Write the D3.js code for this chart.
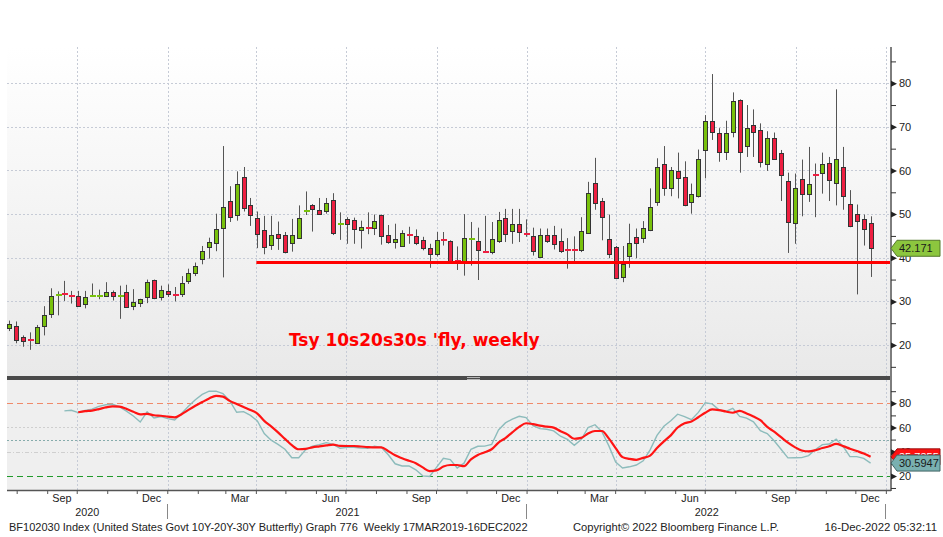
<!DOCTYPE html>
<html><head><meta charset="utf-8">
<script src="https://cdn.jsdelivr.net/npm/d3@7"></script>
<style>body{margin:0;background:#fff;} svg{display:block;font-family:"Liberation Sans",Arial,sans-serif;}</style>
</head><body><svg id="c" width="943" height="537"></svg>
<script>
// ---------- data ----------
const startDate = "2020-07-24", endDate = "2022-12-16";
const open = [23.9,24.3,21.9,21.1,20.5,24.3,27.1,31.3,31.7,31.3,
31.3,29.5,31.1,31.2,31.3,32.2,31.1,32.2,28.8,29.5,
31.0,34.8,31.2,32.3,31.6,31.5,34.5,36.5,39.8,42.4,
43.5,46.8,53.0,49.8,58.6,52.0,49.1,46.4,42.9,45.4,
45.2,43.3,44.5,50.7,52.0,51.0,50.7,53.3,47.6,48.8,
48.6,46.3,46.9,46.8,49.8,45.3,43.8,42.8,45.4,45.0,
44.0,42.3,40.9,44.1,43.8,39.2,39.0,44.2,43.8,41.4,
41.5,43.8,49.0,46.2,47.8,45.4,44.9,40.3,45.1,45.3,
43.8,41.9,41.9,41.7,45.7,57.2,53.0,44.2,42.5,35.6,
40.4,44.7,44.4,46.4,52.8,61.4,55.9,59.8,58.4,52.6,
54.2,64.7,71.3,68.5,64.4,68.7,76.1,65.6,70.4,69.3,
61.5,67.5,64.1,57.5,48.0,58.0,54.5,59.0,59.5,61.8,
57.2,60.8,52.4,50.1,48.8,48.0];
const high = [25.6,25.4,22.2,22.9,24.6,28.9,33.0,32.3,34.7,32.4,
32.4,32.4,34.1,32.7,34.4,32.5,33.6,33.8,32.8,30.6,
35.0,35.0,33.6,33.9,33.3,35.8,37.5,38.9,42.7,44.6,
50.1,65.6,56.4,59.8,60.8,53.7,50.6,49.6,49.6,48.3,
45.9,48.9,52.0,55.2,52.3,53.7,53.7,54.8,50.4,49.3,
49.2,48.5,50.4,49.9,49.9,47.5,47.8,46.3,47.1,46.5,
44.8,43.2,45.9,45.9,44.0,42.6,50.0,48.2,46.9,49.6,
48.2,50.5,51.2,51.2,51.2,48.8,46.9,46.7,46.7,47.3,
46.7,44.5,44.9,49.3,57.4,62.9,53.7,49.9,42.7,42.7,
47.8,46.7,48.4,55.9,62.8,65.6,60.8,64.1,62.1,57.0,
64.8,72.7,82.1,69.7,71.4,77.9,76.3,75.0,74.0,70.8,
69.0,68.7,64.7,59.5,59.3,62.5,65.4,61.6,64.1,63.1,
78.6,65.4,55.5,52.2,49.9,49.5];
const low = [23.2,20.4,19.6,18.9,20.5,22.2,26.2,26.8,30.1,29.5,
28.9,28.4,31.0,30.5,31.0,30.2,26.0,28.8,28.0,28.7,
29.6,30.5,30.2,31.0,30.0,31.0,34.0,35.8,38.5,39.8,
41.5,35.5,48.2,48.5,50.6,47.3,42.2,40.8,41.8,41.8,
41.0,41.4,44.3,49.8,46.0,49.8,50.1,45.2,44.1,43.2,
43.2,42.1,45.4,45.2,43.0,43.2,42.1,42.5,43.2,42.9,
41.7,37.7,40.3,42.8,39.0,37.2,35.9,38.2,34.9,41.2,
40.8,43.4,43.6,43.2,43.6,44.8,40.5,40.0,43.4,41.9,
41.1,37.5,39.0,41.3,45.5,51.0,44.0,39.9,35.2,34.4,
37.7,39.9,43.4,46.1,51.9,54.2,54.1,53.6,51.8,50.1,
53.8,58.2,67.0,62.0,62.4,67.6,59.5,63.1,63.1,60.7,
59.9,62.4,53.0,41.1,43.2,49.5,52.8,49.3,54.7,53.0,
52.0,51.0,47.0,31.6,42.8,35.6];
const close = [24.85,21.2,20.9,21.0,24.1,26.9,31.2,31.8,31.5,31.1,
29.0,31.1,31.2,31.3,32.2,31.2,31.2,28.8,29.8,30.5,
34.5,30.6,32.7,31.7,31.5,34.1,36.4,38.2,41.6,43.5,
46.7,51.6,49.3,56.9,51.6,49.8,45.5,42.5,45.2,44.5,
41.2,45.2,49.1,50.8,51.0,50.1,52.6,45.8,47.7,47.6,
46.5,47.0,46.8,48.4,45.0,43.8,44.4,45.7,45.2,43.4,
42.2,40.9,44.0,43.9,39.2,39.1,44.6,44.3,41.7,41.3,
44.4,48.6,45.3,47.8,45.9,45.3,41.5,45.3,43.8,43.2,
41.5,41.8,41.8,46.1,54.9,52.6,49.3,40.7,35.3,38.6,
43.4,43.4,46.8,51.6,60.8,55.9,60.1,58.2,52.0,54.5,
62.6,71.4,68.7,64.1,68.7,75.9,64.1,69.7,68.7,62.0,
67.5,62.8,59.1,48.0,56.0,54.5,56.8,58.9,61.6,57.9,
62.6,54.1,47.4,48.4,46.4,42.171];
const rsi = [null,null,null,null,null,null,null,null,
73.7,74.2,72.3,74.0,75.2,77.5,78.8,79.2,77.0,73.5,
69.5,64.5,73.0,67.8,69.0,67.3,66.2,71.5,77.5,83.0,
87.3,90.0,90.0,88.0,82.0,72.6,73.1,70.0,65.5,55.0,
49.5,46.0,42.0,35.0,35.0,41.5,44.5,45.8,47.5,46.0,
42.8,43.6,43.6,43.0,42.8,44.5,43.5,37.5,30.0,28.2,
28.2,25.0,20.0,19.5,27.0,34.5,33.5,26.5,30.5,42.0,
44.5,44.6,46.0,58.0,63.8,67.0,69.3,68.2,61.5,59.1,
58.5,57.2,52.8,50.2,45.3,50.0,60.0,62.3,56.5,45.0,
31.5,26.5,27.5,29.0,32.5,41.5,53.5,61.0,65.5,71.0,
69.0,66.4,72.5,80.5,79.5,74.6,73.3,75.9,69.2,67.7,
64.7,57.3,55.0,49.0,42.0,34.9,35.0,35.1,36.8,41.8,
45.8,46.3,50.3,44.5,36.0,35.9,34.5,30.5947];
const rsiAvg = [null,null,null,null,null,null,null,null,null,null,
72.6,73.5,74.0,75.2,76.6,77.5,77.2,75.4,73.0,70.9,
71.2,70.1,69.7,69.0,68.4,71.0,74.6,78.0,81.0,84.0,
86.2,85.5,82.0,79.5,77.0,74.5,71.5,65.5,61.0,56.0,
50.6,45.4,42.0,42.3,43.6,44.4,45.2,45.9,44.8,44.7,
44.7,44.3,43.8,43.5,43.6,40.5,37.0,34.6,32.5,30.5,
27.0,24.0,24.5,27.7,29.0,29.0,28.0,33.6,37.3,39.5,
42.0,47.5,51.3,56.0,60.5,63.5,62.8,61.5,60.7,59.9,
56.9,54.3,50.7,51.4,55.0,57.1,57.1,51.0,43.0,35.5,
34.0,33.3,34.9,36.8,43.0,48.5,53.5,60.0,63.5,65.0,
68.5,72.2,75.0,74.4,73.2,72.2,73.7,71.6,69.1,66.0,
60.5,56.5,52.0,47.5,43.8,41.0,40.2,41.2,43.0,44.5,
46.4,44.6,42.5,40.5,38.5,35.7355];
const supportLevel = 38.94;
const supportStart = "2021-04-01";
const priceTicks = [20,30,40,50,60,70,80];
const priceMinorTicks = [15,25,35,45,55,65,75,85];
const rsiTicks = [20,40,60,80];
const rsiMinorTicks = [10,30,50,70,90];
const rsiLevels = [80,60,50,40,20];
const lastPrice = "42.171", lastRsi = "30.5947", lastRsiAvg = "35.7355";
const titleText = "Tsy 10s20s30s 'fly, weekly";
const footerLeft = "BF102030 Index (United States Govt 10Y-20Y-30Y Butterfly) Graph 776  Weekly 17MAR2019-16DEC2022";
const footerMid = "Copyright\u00A9 2022 Bloomberg Finance L.P.";
const footerRight = "16-Dec-2022 05:32:11";

// ---------- layout ----------
const svg = d3.select("#c");
const L = 7, AX = 891, TOP = 47, TOPB = 376, LOWT = 380, LOWB = 490;
const parse = d3.utcParse("%Y-%m-%d");
const d0 = parse(startDate), d1 = parse(endDate);
const dates = d3.utcFriday.range(d0, d3.utcDay.offset(d1, 1));
const candles = dates.map((d, i) => ({date: d, o: open[i], h: high[i], l: low[i], c: close[i], r: rsi[i], ra: rsiAvg[i]}));

const x = d3.scaleUtc().domain([d0, d1]).range([9.3, 870.6]);
const yT = d3.scaleLinear().domain([12.9, 88.3]).range([TOPB, TOP]);
const yL = d3.scaleLinear().domain([8, 100]).range([490.4, 379.1]);
const px = v => Math.round(v) + 0.5;

const defs = svg.append("defs");
const grad = defs.append("linearGradient").attr("id", "bg").attr("x1", 0).attr("y1", 0).attr("x2", 0).attr("y2", 1);
grad.append("stop").attr("offset", "0%").attr("stop-color", "#ffffff");
grad.append("stop").attr("offset", "100%").attr("stop-color", "#e9e9e9");

svg.append("rect").attr("x", L).attr("y", TOP).attr("width", AX - L).attr("height", TOPB - TOP).attr("fill", "url(#bg)");
svg.append("rect").attr("x", L).attr("y", LOWT).attr("width", AX - L).attr("height", LOWB - LOWT).attr("fill", "#efefef");

// vertical quarter gridlines
const quarters = d3.utcMonth.every(3).range(d3.utcDay.offset(d0, 1), new Date(Date.UTC(2023, 0, 2)));
const gGrid = svg.append("g");
quarters.forEach(q => {
  const xx = px(x(q));
  if (xx > AX - 2) return;
  [[TOP, TOPB], [LOWT, LOWB]].forEach(([a, b]) =>
    gGrid.append("line").attr("x1", xx).attr("x2", xx).attr("y1", a).attr("y2", b)
      .attr("stroke", "#c6cbd6").attr("stroke-dasharray", "2,2"));
});
// horizontal price gridlines
priceTicks.forEach(v => gGrid.append("line").attr("x1", L).attr("x2", AX).attr("y1", px(yT(v))).attr("y2", px(yT(v)))
  .attr("stroke", "#c6cbd6").attr("stroke-dasharray", "2,2"));

// RSI level lines
const levelStyle = {80: ["#f08a6a", "6,4"], 60: ["#cfcfcf", "2,2"], 50: ["#86acac", "2,2"], 40: ["#cfcfcf", "4,2,1,2"], 20: ["#1f9a2a", "6,4"]};
rsiLevels.forEach(v => gGrid.append("line").attr("x1", L).attr("x2", AX).attr("y1", px(yL(v))).attr("y2", px(yL(v)))
  .attr("stroke", levelStyle[v][0]).attr("stroke-dasharray", levelStyle[v][1]));

// candles
const gC = svg.append("g");
candles.forEach(d => {
  const cx = Math.round(x(d.date));
  const up = d.c >= d.o;
  gC.append("line").attr("x1", cx + 0.5).attr("x2", cx + 0.5).attr("y1", yT(d.h)).attr("y2", yT(d.l))
    .attr("stroke", "#555").attr("stroke-width", 1);
  const yt = yT(Math.max(d.o, d.c)), yb = yT(Math.min(d.o, d.c));
  const col = up ? "#78c10c" : "#ee1f41";
  if (yb - yt < 2.2) {
    gC.append("rect").attr("x", cx - 2).attr("y", Math.round((yt + yb) / 2) - 1).attr("width", 6).attr("height", 2).attr("fill", col);
  } else {
    gC.append("rect").attr("x", cx - 1.5).attr("y", Math.round(yt) + 0.5).attr("width", 4).attr("height", Math.max(1, Math.round(yb - yt)))
      .attr("fill", col).attr("stroke", "#333").attr("stroke-width", 1);
  }
});

// support line
svg.append("line").attr("x1", x(parse(supportStart))).attr("x2", AX).attr("y1", yT(supportLevel)).attr("y2", yT(supportLevel))
  .attr("stroke", "#ff0000").attr("stroke-width", 3);

// title
svg.append("text").attr("x", 289).attr("y", 346).text(titleText)
  .attr("font-family", "DejaVu Sans").attr("font-weight", "bold").attr("font-size", 17).attr("fill", "#ff0000");

// RSI lines
const lineR = d3.line().defined(d => d.r != null).x(d => x(d.date)).y(d => yL(d.r));
const lineRA = d3.line().defined(d => d.ra != null).x(d => x(d.date)).y(d => yL(d.ra)).curve(d3.curveMonotoneX);
svg.append("path").datum(candles).attr("d", lineR).attr("fill", "none").attr("stroke", "#8dbcbc").attr("stroke-width", 1.4);
svg.append("path").datum(candles).attr("d", lineRA).attr("fill", "none").attr("stroke", "#ff1414").attr("stroke-width", 2.2);

// separator
svg.append("rect").attr("x", L).attr("y", TOPB).attr("width", AX - L).attr("height", 4).attr("fill", "#4a4a4a");
svg.append("line").attr("x1", 467).attr("x2", 480).attr("y1", 377.5).attr("y2", 377.5).attr("stroke", "#b5b5b5");
svg.append("line").attr("x1", 467).attr("x2", 480).attr("y1", 379.5).attr("y2", 379.5).attr("stroke", "#b5b5b5");

// right axis line
svg.append("line").attr("x1", AX).attr("x2", AX).attr("y1", TOP).attr("y2", LOWB + 1).attr("stroke", "#7d7d7d").attr("stroke-width", 2);

function rightAxis(scale, major, minor) {
  const gMin = svg.append("g").attr("transform", `translate(${AX},0)`)
    .call(d3.axisRight(scale).tickValues(minor).tickSize(5).tickSizeOuter(0).tickFormat(""));
  gMin.select(".domain").remove();
  gMin.selectAll("line").attr("stroke", "#333");
  const gMaj = svg.append("g").attr("transform", `translate(${AX},0)`)
    .call(d3.axisRight(scale).tickValues(major).tickSize(0).tickPadding(8).tickSizeOuter(0));
  gMaj.select(".domain").remove();
  gMaj.selectAll(".tick").append("path").attr("d", "M0,-3L6,0L0,3Z").attr("fill", "#222");
  gMaj.selectAll(".tick text").attr("font-size", 11).attr("font-family", "Liberation Sans").attr("fill", "#222");
}
rightAxis(yT, priceTicks, priceMinorTicks);
rightAxis(yL, rsiTicks, rsiMinorTicks);

// bottom axis
svg.append("line").attr("x1", L).attr("x2", AX).attr("y1", LOWB + 0.5).attr("y2", LOWB + 0.5).attr("stroke", "#555").attr("stroke-width", 1.5);
const months = d3.utcMonth.range(parse("2020-08-01"), parse("2023-01-02"));
const gM = svg.append("g").attr("transform", `translate(0,${LOWB})`)
  .call(d3.axisBottom(x).tickValues(months).tickSize(4).tickSizeOuter(0).tickFormat(""));
gM.select(".domain").remove();
gM.selectAll("line").attr("stroke", "#555").attr("transform", "translate(-0.5,0)");
const labelMonths = months.filter(m => [2, 5, 8, 11].includes(m.getUTCMonth())).map(m => d3.utcDay.offset(m, 14));
const gML = svg.append("g").attr("transform", `translate(0,${LOWB})`)
  .call(d3.axisBottom(x).tickValues(labelMonths).tickSize(0).tickPadding(4).tickSizeOuter(0).tickFormat(d3.utcFormat("%b")));
gML.select(".domain").remove();
gML.selectAll("text").attr("font-size", 10.8).attr("font-family", "Liberation Sans").attr("fill", "#222");

// years
const yearStarts = [parse("2021-01-01"), parse("2022-01-01"), parse("2023-01-01")];
yearStarts.forEach(ys => svg.append("line").attr("x1", px(x(ys)) - 1).attr("x2", px(x(ys)) - 1).attr("y1", 504).attr("y2", 519).attr("stroke", "#888"));
const yearSpans = [["2020", L, x(yearStarts[0])], ["2021", x(yearStarts[0]), x(yearStarts[1])], ["2022", x(yearStarts[1]), x(yearStarts[2])]];
yearSpans.forEach(([t, a, b]) => svg.append("text").attr("x", (a + b) / 2).attr("y", 516).attr("text-anchor", "middle")
  .attr("font-size", 10.8).attr("fill", "#222").text(t));

// tags
function tag(cy, fill, stroke, txt, txtCol) {
  const g = svg.append("g");
  g.append("path").attr("d", `M${AX},${cy}L${AX + 6},${cy - 8}L940,${cy - 8}L940,${cy + 8}L${AX + 6},${cy + 8}Z`)
    .attr("fill", fill).attr("stroke", stroke).attr("stroke-width", 1);
  g.append("text").attr("x", AX + 8).attr("y", cy + 4).attr("font-size", 11).attr("fill", txtCol).text(txt);
}
tag(yT(+lastPrice), "#8cc63e", "#55782a", lastPrice, "#1a1a1a");
tag(yL(+lastRsiAvg), "#ff1010", "#991111", lastRsiAvg, "#ffffff");
tag(yL(+lastRsi), "#79b0b0", "#3f6464", lastRsi, "#1a1a1a");

// footer
const fy = 531;
svg.append("text").attr("x", 9).attr("y", fy).attr("font-size", 11).attr("fill", "#222").attr("xml:space", "preserve").style("white-space", "pre").text(footerLeft);
svg.append("text").attr("x", 573).attr("y", fy).attr("font-size", 11.2).attr("fill", "#222").text(footerMid);
svg.append("text").attr("x", 937).attr("y", fy).attr("text-anchor", "end").attr("font-size", 11.4).attr("fill", "#222").text(footerRight);
</script></body></html>
